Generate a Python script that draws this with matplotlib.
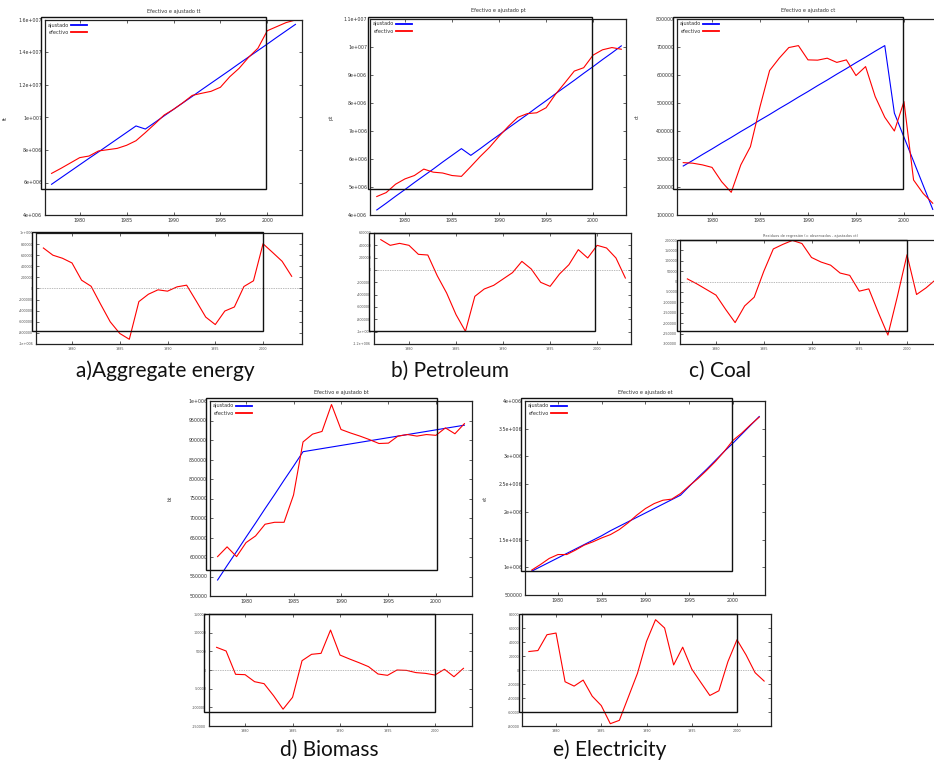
import matplotlib
matplotlib.use('Agg')
import matplotlib.pyplot as plt
from matplotlib.patches import Rectangle
from matplotlib.ticker import FuncFormatter, MultipleLocator

W, H = 934, 765
years = list(range(1977, 2004))

# ---------------- data ----------------
tt_efectivo = [6.56e6, 6.87e6, 7.20e6, 7.53e6, 7.63e6, 7.94e6, 8.02e6, 8.10e6, 8.29e6, 8.57e6,
               9.07e6, 9.60e6, 10.15e6, 10.50e6, 10.91e6, 11.36e6, 11.49e6, 11.61e6, 11.86e6,
               12.51e6, 13.03e6, 13.70e6, 14.26e6, 15.34e6, 15.59e6, 15.84e6, 16.00e6]
tt_ajustado = [5.89e6, 6.29e6, 6.69e6, 7.09e6, 7.49e6, 7.88e6, 8.28e6, 8.68e6, 9.08e6, 9.48e6,
               9.29e6, 9.69e6, 10.10e6, 10.50e6, 10.90e6, 11.30e6, 11.71e6, 12.11e6, 12.51e6,
               12.91e6, 13.32e6, 13.72e6, 14.12e6, 14.52e6, 14.93e6, 15.33e6, 15.73e6]
tt_residuo = [7.3e5, 6.0e5, 5.45e5, 4.6e5, 1.5e5, 0.4e5, -2.85e5, -6.0e5, -8.1e5, -9.15e5,
              -2.36e5, -1.03e5, -0.24e5, -0.48e5, 0.3e5, 0.6e5, -2.24e5, -5.15e5, -6.5e5,
              -4.06e5, -3.33e5, 0.36e5, 1.39e5, 8.06e5, 6.5e5, 4.9e5, 2.2e5]

pt_efectivo = [4.66e6, 4.80e6, 5.10e6, 5.29e6, 5.41e6, 5.64e6, 5.53e6, 5.50e6, 5.41e6, 5.38e6,
               5.73e6, 6.09e6, 6.42e6, 6.81e6, 7.17e6, 7.49e6, 7.62e6, 7.65e6, 7.83e6,
               8.31e6, 8.72e6, 9.14e6, 9.26e6, 9.71e6, 9.90e6, 9.98e6, 9.92e6]
pt_ajustado = [4.18e6, 4.42e6, 4.67e6, 4.91e6, 5.16e6, 5.40e6, 5.64e6, 5.89e6, 6.13e6, 6.37e6,
               6.13e6, 6.37e6, 6.62e6, 6.86e6, 7.11e6, 7.35e6, 7.59e6, 7.84e6, 8.08e6,
               8.33e6, 8.57e6, 8.81e6, 9.06e6, 9.30e6, 9.55e6, 9.79e6, 10.04e6]
pt_residuo = [4.92e5, 4.0e5, 4.32e5, 4.0e5, 2.54e5, 2.43e5, -0.92e5, -3.73e5, -7.24e5, -9.95e5,
              -4.27e5, -3.08e5, -2.49e5, -1.46e5, -0.43e5, 1.4e5, 0.16e5, -2.0e5, -2.65e5,
              -0.65e5, 0.86e5, 3.3e5, 1.95e5, 4.0e5, 3.57e5, 1.95e5, -1.3e5]

ct_efectivo = [2.87e5, 2.85e5, 2.79e5, 2.70e5, 2.19e5, 1.81e5, 2.79e5, 3.44e5, 4.87e5, 6.16e5,
               6.60e5, 6.98e5, 7.05e5, 6.54e5, 6.53e5, 6.60e5, 6.45e5, 6.54e5, 5.98e5,
               6.30e5, 5.23e5, 4.49e5, 4.00e5, 5.05e5, 2.25e5, 1.77e5, 1.42e5]
ct_ajustado = [2.75e5, 2.95e5, 3.16e5, 3.36e5, 3.57e5, 3.77e5, 3.98e5, 4.18e5, 4.39e5, 4.59e5,
               4.80e5, 5.00e5, 5.21e5, 5.41e5, 5.62e5, 5.82e5, 6.03e5, 6.23e5, 6.44e5,
               6.64e5, 6.85e5, 7.05e5, 4.64e5, 3.78e5, 2.92e5, 2.06e5, 1.20e5]
ct_residuo = [1.3e4, -1.1e4, -3.8e4, -6.5e4, -13.3e4, -19.7e4, -11.7e4, -7.5e4, 4.9e4, 15.7e4,
              17.9e4, 19.8e4, 18.3e4, 11.6e4, 9.4e4, 7.9e4, 4.1e4, 3.0e4, -4.6e4,
              -3.5e4, -14.9e4, -25.7e4, -7.0e4, 12.9e4, -6.2e4, -3.0e4, 0.95e4]

bt_efectivo = [6.01e5, 6.26e5, 6.01e5, 6.37e5, 6.54e5, 6.84e5, 6.89e5, 6.89e5, 7.59e5, 8.95e5,
               9.15e5, 9.22e5, 9.91e5, 9.27e5, 9.18e5, 9.10e5, 9.01e5, 8.91e5, 8.92e5,
               9.10e5, 9.14e5, 9.10e5, 9.14e5, 9.12e5, 9.31e5, 9.16e5, 9.42e5]
bt_ajustado = [5.41e5, 5.78e5, 6.14e5, 6.51e5, 6.87e5, 7.24e5, 7.60e5, 7.97e5, 8.33e5, 8.70e5,
               8.74e5, 8.78e5, 8.82e5, 8.86e5, 8.90e5, 8.94e5, 8.98e5, 9.02e5, 9.06e5,
               9.10e5, 9.14e5, 9.18e5, 9.22e5, 9.26e5, 9.30e5, 9.34e5, 9.38e5]
bt_residuo = [6.07e4, 5.09e4, -1.16e4, -1.25e4, -3.13e4, -3.66e4, -6.88e4, -10.5e4, -7.32e4, 2.5e4,
              4.2e4, 4.46e4, 10.7e4, 4.0e4, 2.95e4, 1.96e4, 0.9e4, -1.07e4, -1.43e4,
              0.0, -0.1e4, -0.7e4, -0.9e4, -1.34e4, 0.2e4, -1.8e4, 0.45e4]

et_efectivo = [0.95e6, 1.05e6, 1.16e6, 1.23e6, 1.23e6, 1.31e6, 1.40e6, 1.46e6, 1.53e6, 1.59e6,
               1.68e6, 1.80e6, 1.94e6, 2.06e6, 2.15e6, 2.21e6, 2.23e6, 2.33e6, 2.47e6,
               2.60e6, 2.75e6, 2.91e6, 3.09e6, 3.29e6, 3.42e6, 3.57e6, 3.71e6]
et_ajustado = [0.93e6, 1.01e6, 1.09e6, 1.17e6, 1.25e6, 1.33e6, 1.41e6, 1.49e6, 1.57e6, 1.66e6,
               1.74e6, 1.82e6, 1.90e6, 1.98e6, 2.06e6, 2.14e6, 2.22e6, 2.30e6, 2.46e6,
               2.62e6, 2.77e6, 2.93e6, 3.09e6, 3.24e6, 3.40e6, 3.56e6, 3.72e6]
et_residuo = [2.64e4, 2.78e4, 5.04e4, 5.28e4, -1.68e4, -2.3e4, -1.44e4, -3.74e4, -5.08e4, -7.67e4,
              -7.19e4, -3.84e4, -0.48e4, 4.08e4, 7.19e4, 6.0e4, 0.72e4, 3.26e4, 0.14e4,
              -1.77e4, -3.64e4, -2.97e4, 1.2e4, 4.32e4, 2.16e4, -0.38e4, -1.58e4]

variables = ['tt', 'pt', 'ct', 'bt', 'et']
captions = ['a)Aggregate energy', 'b) Petroleum', 'c) Coal', 'd) Biomass', 'e) Electricity']
titulo_res = 'Residuos de regresión (= observados - ajustados ct)'

# ---------------- layout (pixel boxes: left, top, right, bottom) ----------------
panels = [
    dict(var='tt', ef=tt_efectivo, aj=tt_ajustado, res=tt_residuo,
         top=(45, 20, 302, 215), tx=(1976.3, 2003.7), ty=(4e6, 1.6e7), tstep=2e6,
         bot=(36, 233, 302, 344), bx=(1976.23, 2004.08), by=(-1e6, 1e6), bstep=2e5,
         rtop=(41, 17, 266, 189), rbot=(32, 232, 263, 331), cap=(165, 371), restitle=False),
    dict(var='pt', ef=pt_efectivo, aj=pt_ajustado, res=pt_residuo,
         top=(370, 19, 626, 215), tx=(1976.28, 2003.5), ty=(4e6, 1.1e7), tstep=1e6,
         bot=(374, 233, 631, 344), bx=(1976.28, 2003.6), by=(-1.2e6, 6e5), bstep=2e5,
         rtop=(368, 17, 592, 189), rbot=(369, 233, 595, 331), cap=(450, 371), restitle=False),
    dict(var='ct', ef=ct_efectivo, aj=ct_ajustado, res=ct_residuo,
         top=(677, 19, 939, 215), tx=(1976.35, 2003.65), ty=(1e5, 8e5), tstep=1e5,
         bot=(680, 240, 941, 344), bx=(1976.23, 2003.56), by=(-3e5, 2e5), bstep=5e4,
         rtop=(673, 17, 903, 189), rbot=(677, 240, 907, 331), cap=(720, 371), restitle=True),
    dict(var='bt', ef=bt_efectivo, aj=bt_ajustado, res=bt_residuo,
         top=(210, 401, 472, 596), tx=(1976.2, 2003.8), ty=(5e5, 1e6), tstep=5e4,
         bot=(209, 614, 472, 726), bx=(1976.2, 2003.9), by=(-1.5e5, 1.5e5), bstep=5e4,
         rtop=(206, 398, 437, 570), rbot=(204, 614, 435, 712), cap=(329, 750), restitle=False),
    dict(var='et', ef=et_efectivo, aj=et_ajustado, res=et_residuo,
         top=(525, 401, 765, 595), tx=(1976.23, 2003.66), ty=(5e5, 4e6), tstep=5e5,
         bot=(522, 614, 771, 726), bx=(1976.24, 2003.76), by=(-8e4, 8e4), bstep=2e4,
         rtop=(521, 398, 732, 571), rbot=(519, 614, 737, 712), cap=(610, 750), restitle=False),
]


def box(b):
    l, t, r, bt = b
    return [l / W, 1 - bt / H, (r - l) / W, (bt - t) / H]


def gfmt(v, pos=None):
    v = round(v)
    s = '%g' % v
    return s.replace('e+0', 'e+00').replace('e-0', 'e-00')


fig = plt.figure(figsize=(W / 100, H / 100), dpi=100)
fig.patch.set_facecolor('white')

TICK_COL = '#333333'


def style_axes(ax, fs, col, lw):
    ax.tick_params(direction='in', top=True, right=True, length=2.5, width=0.5,
                   labelsize=fs, colors='#222222', labelcolor=col, pad=2)
    for s in ax.spines.values():
        s.set_linewidth(lw)
        s.set_color('#222222')
    ax.set_facecolor('none')
    ax.xaxis.set_major_locator(MultipleLocator(5))
    ax.yaxis.set_major_formatter(FuncFormatter(gfmt))


for p in panels:
    # top: efectivo vs ajustado
    ax = fig.add_axes(box(p['top']))
    ax.plot(years, p['aj'], color='#0000ff', lw=0.8, label='ajustado')
    ax.plot(years, p['ef'], color='#ff0000', lw=0.8, label='efectivo')
    ax.set_xlim(*p['tx'])
    ax.set_ylim(*p['ty'])
    ax.yaxis.set_major_locator(MultipleLocator(p['tstep']))
    style_axes(ax, 3.4, TICK_COL, 0.9)
    ax.set_title('Efectivo e ajustado ' + p['var'], fontsize=3.6, color=TICK_COL, pad=5)
    wpx = p['top'][2] - p['top'][0]
    ax.set_ylabel(p['var'], fontsize=3.6, color=TICK_COL)
    ax.yaxis.set_label_coords(-37 / wpx, 0.5)
    leg = ax.legend(loc='upper left', markerfirst=False, frameon=False, fontsize=3.6,
                    handlelength=3.2, handletextpad=0.5, labelspacing=0.45,
                    borderaxespad=0.3, borderpad=0.2)
    for ln in leg.get_lines():
        ln.set_linewidth(1.3)
    for t in leg.get_texts():
        t.set_color(TICK_COL)

    # bottom: residuals
    axr = fig.add_axes(box(p['bot']))
    axr.plot(years, p['res'], color='#ff0000', lw=0.8)
    axr.axhline(0, color='#777777', lw=0.5, ls=(0, (1, 1.5)))
    axr.set_xlim(*p['bx'])
    axr.set_ylim(*p['by'])
    axr.yaxis.set_major_locator(MultipleLocator(p['bstep']))
    style_axes(axr, 2.4, '#555555', 0.9)
    if p['restitle']:
        axr.set_title(titulo_res, fontsize=2.6, color='#555555', pad=2)

    # overlay frames
    for rb in (p['rtop'], p['rbot']):
        l, t, r, b = rb
        fig.add_artist(Rectangle((l / W, 1 - b / H), (r - l) / W, (b - t) / H,
                                 transform=fig.transFigure, fill=False,
                                 edgecolor='#111111', lw=1.0, zorder=20))

for p, cap in zip(panels, captions):
    cx, cy = p['cap']
    fig.text(cx / W, 1 - cy / H, cap, fontsize=15, family=['Lato', 'DejaVu Sans'],
             ha='center', va='center', color='#111111')

fig.savefig('out.png', dpi=100)
